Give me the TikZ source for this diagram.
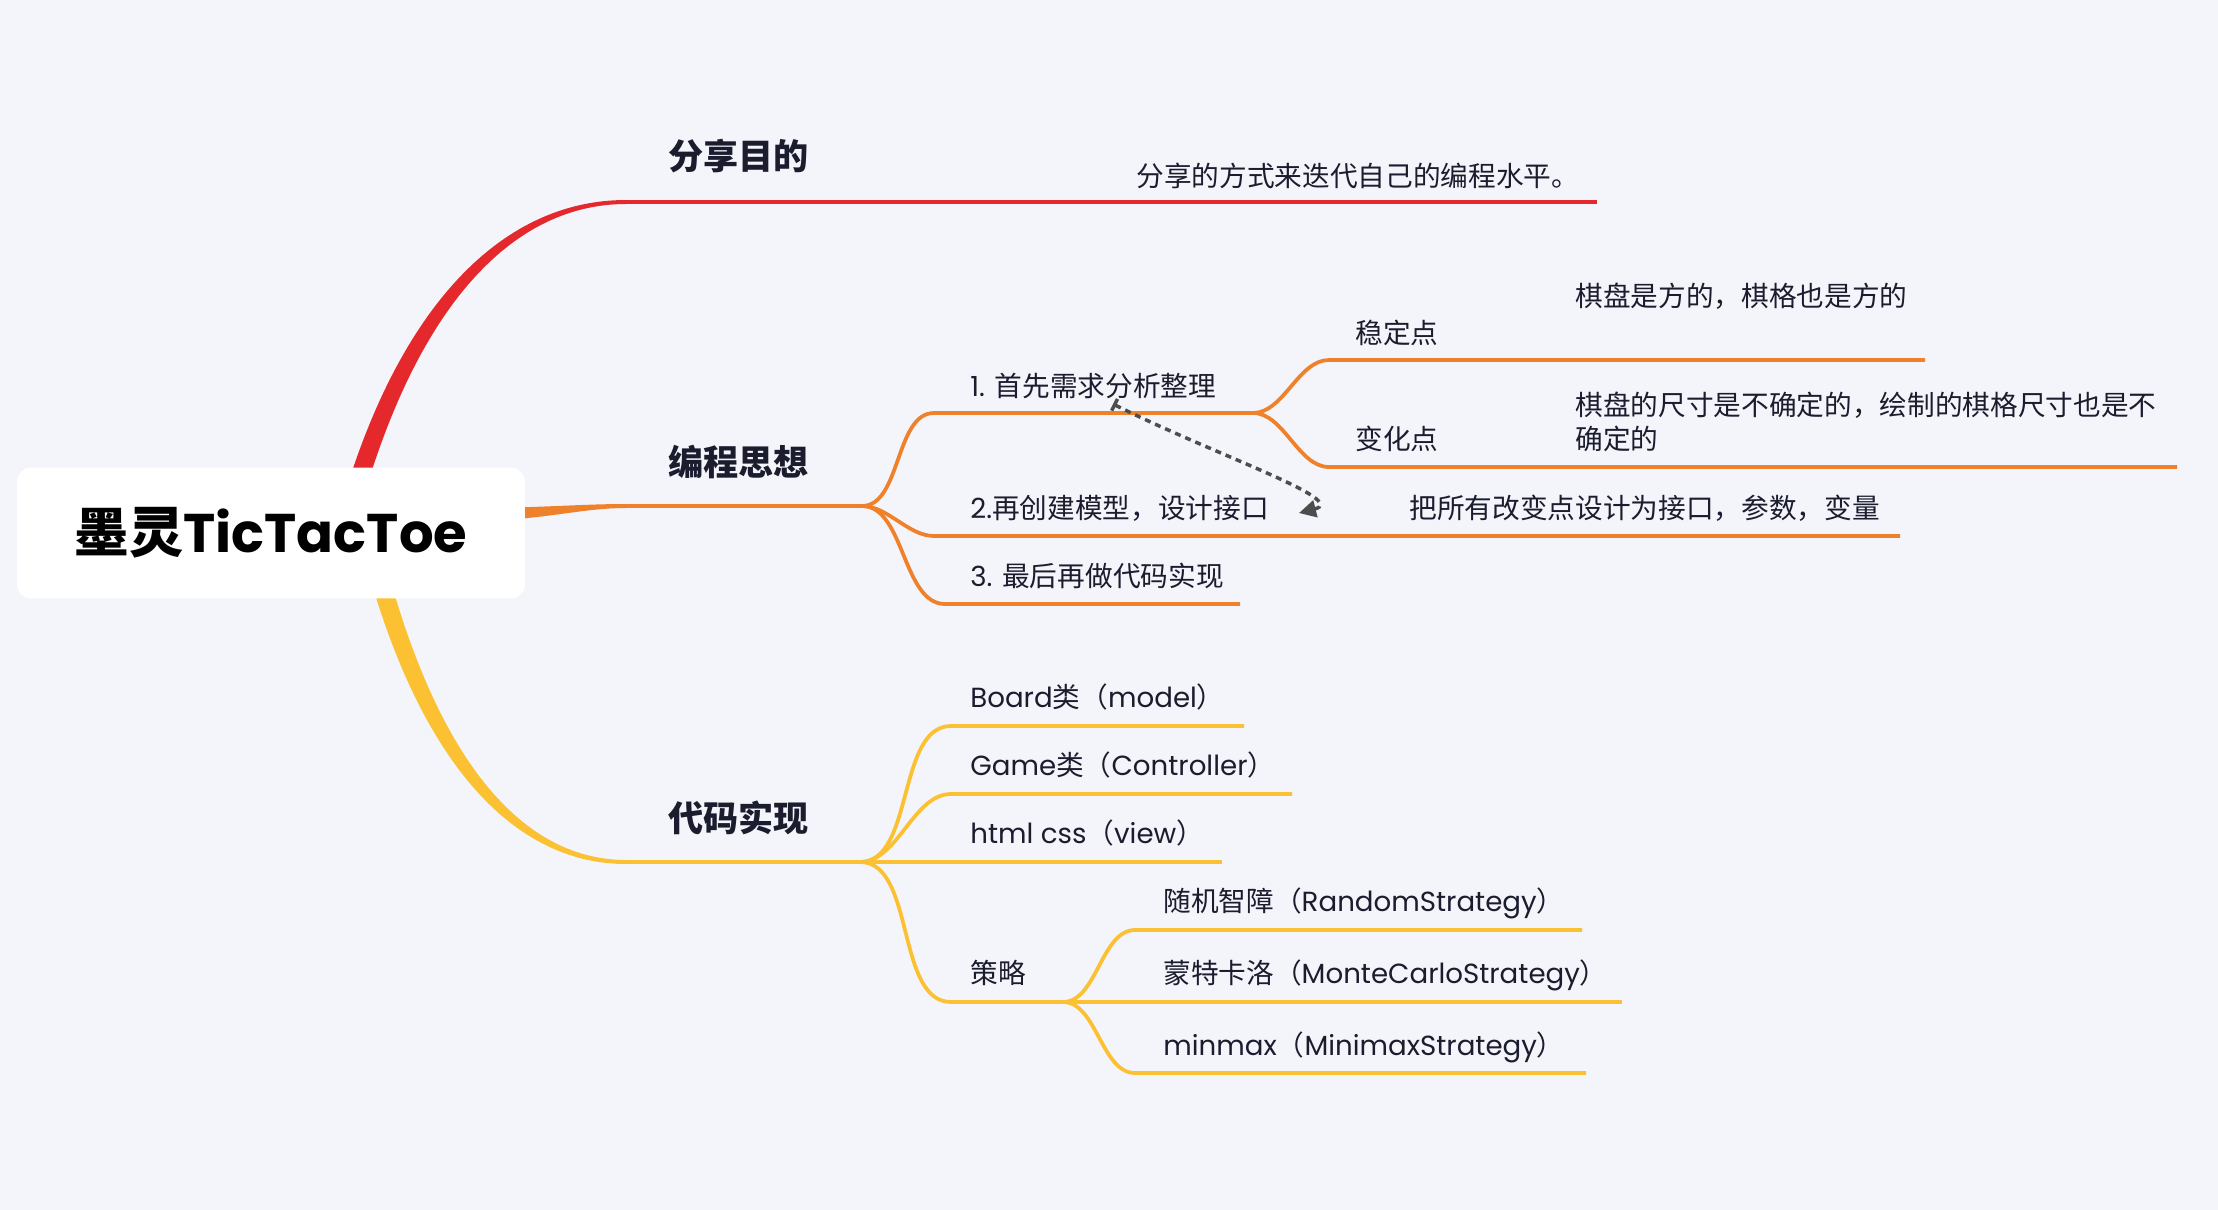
\documentclass[tikz,border=0pt]{standalone}
\usepackage{fontspec}
\setmainfont{Noto Sans CJK SC}
\newfontfamily\mmlatin{Poppins}
\newcommand\lat[1]{{\mmlatin #1}}
\usepackage{xcolor}
\definecolor{mmred}{HTML}{E5282C}
\definecolor{mmorange}{HTML}{F0812B}
\definecolor{mmyellow}{HTML}{FBC132}
\definecolor{mmbg}{HTML}{F4F5FA}
\definecolor{mmtext}{HTML}{1B1C2E}
\definecolor{mmrel}{HTML}{4D4D4D}
\usetikzlibrary{arrows.meta,positioning,backgrounds}

\begin{document}
\begin{tikzpicture}[
  x=0.02cm,y=-0.02cm,
  root/.style={fill=white,rounded corners=0.28cm,minimum width=10.16cm,minimum height=2.62cm,
    inner sep=0pt,text=black,font=\fontsize{31}{36}\selectfont\bfseries},
  topic/.style={anchor=base west,inner sep=0pt,text=mmtext,font=\fontsize{20}{24}\selectfont\bfseries},
  leaf/.style={anchor=base west,inner sep=0pt,text=mmtext,font=\fontsize{15.75}{19.3}\selectfont},
  branch/.style={line width=0.075cm},
  scurve/.style={out=0,in=180,looseness=0.85},
  rel/.style={draw=mmrel,line width=0.07cm,dash pattern=on 0.12cm off 0.1cm,
    {Bar[width=0.26cm]}-{Triangle[length=0.34cm,width=0.34cm]}}
]
% central topic
\node[root] (root) at (271,533) {墨灵\lat{TicTacToe}};

% main topics
\node[topic] (goal) at (668,169.4) {分享目的};
\node[topic] (idea) at (668,475.4) {编程思想};
\node[topic] (code) at (668,831.4) {代码实现};

% goal
\node[leaf] (goaltxt) at (1136,186.5) {分享的方式来迭代自己的编程水平。};

% idea
\node[leaf] (step1) at (970,396.5) {\lat{1. }首先需求分析整理};
\node[leaf] (stable) at (1355,343.5) {稳定点};
\node[leaf] (stabletxt) at (1575,306.5) {棋盘是方的，棋格也是方的};
\node[leaf] (change) at (1355,449.5) {变化点};
\node[leaf,anchor=west,align=left] (changetxt) at (1575,422) {棋盘的尺寸是不确定的，绘制的棋格尺寸也是不\\确定的};
\node[leaf] (step2) at (970,518.5) {\lat{2.}再创建模型，设计接口};
\node[leaf] (step2txt) at (1409,518.5) {把所有改变点设计为接口，参数，变量};
\node[leaf] (step3) at (970,586.5) {\lat{3. }最后再做代码实现};

% code
\node[leaf] (board) at (970,707.5) {\lat{Board}类（\lat{model}）};
\node[leaf] (game) at (970,775.5) {\lat{Game}类（\lat{Controller}）};
\node[leaf] (view) at (970,843.5) {\lat{html css}（\lat{view}）};
\node[leaf] (strategy) at (970,983.5) {策略};
\node[leaf] (random) at (1163,911.5) {随机智障（\lat{RandomStrategy}）};
\node[leaf] (mcts) at (1163,983.5) {蒙特卡洛（\lat{MonteCarloStrategy}）};
\node[leaf] (minimax) at (1163,1055.5) {\lat{minmax}（\lat{MinimaxStrategy}）};

% forks and line ends
\coordinate (goalbend) at (626,202);
\coordinate (goalend) at (1597,202);
\coordinate (ideabend) at (626,506);
\coordinate (ideafork) at (862,506);
\coordinate (s1a) at (934,413);
\coordinate (s1fork) at (1253,413);
\coordinate (sta) at (1329,360);
\coordinate (stb) at (1925,360);
\coordinate (cha) at (1329,467);
\coordinate (chb) at (2177,467);
\coordinate (s2a) at (934,536);
\coordinate (s2b) at (1900,536);
\coordinate (s3a) at (945,604);
\coordinate (s3b) at (1240,604);
\coordinate (codebend) at (626,862);
\coordinate (codefork) at (860,862);
\coordinate (bda) at (951,726);
\coordinate (bdb) at (1244,726);
\coordinate (gma) at (951,794);
\coordinate (gmb) at (1292,794);
\coordinate (vwb) at (1222,862);
\coordinate (sga) at (951,1002);
\coordinate (sgfork) at (1063,1002);
\coordinate (rda) at (1135,930);
\coordinate (rdb) at (1582,930);
\coordinate (mcb) at (1622,1002);
\coordinate (mma) at (1135,1073);
\coordinate (mmb) at (1586,1073);

\begin{scope}[on background layer]
\fill[mmbg] (0,0) rectangle (2218,1210);
% tapered main branches
\fill[mmred] (334,532) .. controls (392,310) and (500,200) .. (626,200) -- (626,204)
  .. controls (508,204) and (410,314) .. (354,532) -- cycle;
\fill[mmorange] (470,508) .. controls (540,508) and (580,504) .. (626,504) -- (626,508)
  .. controls (580,508) and (540,521) .. (470,521) -- cycle;
\fill[mmyellow] (358,532) .. controls (412,756) and (510,864) .. (626,864) -- (626,860)
  .. controls (518,860) and (430,752) .. (378,532) -- cycle;
% goal
\draw[branch,mmred] (goalbend) -- (goalend);
% idea
\draw[branch,mmorange] (ideabend) -- (ideafork);
\draw[branch,mmorange] (ideafork) to[scurve] (s1a) -- (s1fork);
\draw[branch,mmorange] (s1fork) to[scurve] (sta) -- (stb);
\draw[branch,mmorange] (s1fork) to[scurve] (cha) -- (chb);
\draw[branch,mmorange] (ideafork) to[scurve] (s2a) -- (s2b);
\draw[branch,mmorange] (ideafork) to[scurve] (s3a) -- (s3b);
% code
\draw[branch,mmyellow] (codebend) -- (codefork);
\draw[branch,mmyellow] (codefork) to[scurve] (bda) -- (bdb);
\draw[branch,mmyellow] (codefork) to[scurve] (gma) -- (gmb);
\draw[branch,mmyellow] (codefork) -- (vwb);
\draw[branch,mmyellow] (codefork) to[scurve] (sga) -- (sgfork);
\draw[branch,mmyellow] (sgfork) to[scurve] (rda) -- (rdb);
\draw[branch,mmyellow] (sgfork) -- (mcb);
\draw[branch,mmyellow] (sgfork) to[scurve] (mma) -- (mmb);
\end{scope}

% relationship
\coordinate (relA) at (1113,404);
\coordinate (relB) at (1299,513);
\draw[rel] (relA) .. controls (1215,455) and (1350,500) .. (relB);
\end{tikzpicture}
\end{document}
